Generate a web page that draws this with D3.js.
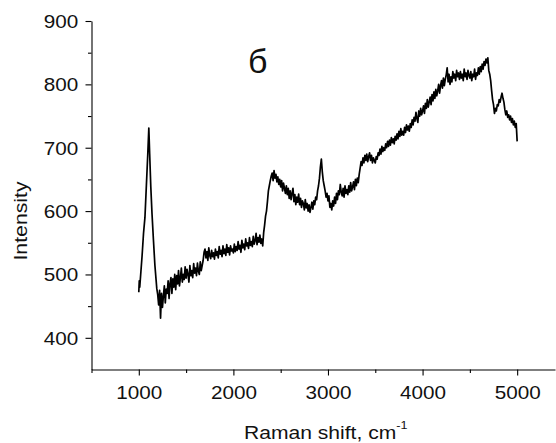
<!DOCTYPE html>
<html><head><meta charset="utf-8">
<script src="https://cdn.jsdelivr.net/npm/d3@7"></script>
<style>body{margin:0;background:#fff}svg{display:block}</style>
</head><body>
<svg id="chart" width="556" height="443"></svg>
<script>
// ---- data ----
const ramanShift = [1000,1005,1010,1020,1035,1050,1065,1080,1095,1106,1115,1127,1140,1155,1170,1183,1190,
1200,1210,1220,1230,1240,1250,1260,1270,1280,1290,
1300,1310,1320,1330,1340,1350,1360,1370,1380,1390,
1400,1410,1420,1430,1440,1450,1460,1470,1480,1490,
1500,1510,1520,1530,1540,1550,1560,1570,1580,1590,
1600,1610,1620,1630,1640,1650,1660,1670,1680,1690,
1700,1710,1720,1730,1740,1750,1760,1770,1780,1790,
1800,1810,1820,1830,1840,1850,1860,1870,1880,1890,
1900,1910,1920,1930,1940,1950,1960,1970,1980,1990,
2000,2010,2020,2030,2040,2050,2060,2070,2080,2090,
2100,2110,2120,2130,2140,2150,2160,2170,2180,2190,
2200,2210,2220,2230,2240,2250,2260,2270,2280,2290,
2300,2310,2320,2330,2340,2350,2360,2370,2380,2390,
2400,2410,2420,2430,2440,2450,2460,2470,2480,2490,
2500,2510,2520,2530,2540,2550,2560,2570,2580,2590,
2600,2610,2620,2630,2640,2650,2660,2670,2680,2690,
2700,2710,2720,2730,2740,2750,2760,2770,2780,2790,
2800,2810,2820,2830,2840,2850,2860,2870,2880,2890,
2900,2910,2920,2930,2940,2950,2960,2970,2980,2990,
3000,3010,3020,3030,3040,3050,3060,3070,3080,3090,
3100,3110,3120,3130,3140,3150,3160,3170,3180,3190,
3200,3210,3220,3230,3240,3250,3260,3270,3280,3290,
3300,3310,3320,3330,3340,3350,3360,3370,3380,3390,
3400,3410,3420,3430,3440,3450,3460,3470,3480,3490,
3500,3510,3520,3530,3540,3550,3560,3570,3580,3590,
3600,3610,3620,3630,3640,3650,3660,3670,3680,3690,
3700,3710,3720,3730,3740,3750,3760,3770,3780,3790,
3800,3810,3820,3830,3840,3850,3860,3870,3880,3890,
3900,3910,3920,3930,3940,3950,3960,3970,3980,3990,
4000,4010,4020,4030,4040,4050,4060,4070,4080,4090,
4100,4110,4120,4130,4140,4150,4160,4170,4180,4190,
4200,4210,4220,4230,4240,4250,4260,4270,4280,4290,
4300,4310,4320,4330,4340,4350,4360,4370,4380,4390,
4400,4410,4420,4430,4440,4450,4460,4470,4480,4490,
4500,4510,4520,4530,4540,4550,4560,4570,4580,4590,
4600,4610,4620,4630,4640,4650,4660,4670,4680,4690,
4700,4710,4720,4730,4740,4750,4760,4770,4780,4790,
4800,4810,4820,4830,4840,4850,4860,4870,4880,4890,
4900,4910,4920,4930,4940,4950,4960,4970,4980,4990,
5000];
const intensity = [472,490,480,500,530,565,590,640,690,731,690,638,595,554,515,491,478,
468,452,475,431,470,448,466,482,455,477,
470,490,462,486,495,470,493,480,500,476,
498,485,506,482,495,510,488,500,492,512,
494,508,500,488,514,498,506,495,517,502,
510,498,518,505,500,520,506,514,522,535,
540,526,536,522,542,530,525,538,528,534,
524,540,530,536,526,544,532,538,528,545,
533,540,530,547,535,542,531,545,537,540,
534,548,536,544,538,552,540,546,535,554,
542,548,539,556,545,550,541,558,546,552,
544,560,548,553,565,547,558,551,562,549,
556,545,566,578,592,600,615,632,640,648,
655,660,648,664,652,658,646,654,642,650,
638,648,632,644,636,628,640,626,636,620,
632,618,628,636,615,626,610,622,614,627,
610,620,606,616,612,602,618,605,612,600,
610,598,606,614,603,616,610,622,618,632,
640,652,670,682,662,648,640,632,622,628,
616,624,606,612,602,616,608,622,612,628,
618,632,626,642,630,624,636,622,640,628,
634,626,640,630,645,632,638,646,634,650,
640,652,645,658,668,678,672,684,676,688,
680,690,678,686,692,680,688,676,684,680,
676,686,682,692,688,698,690,702,694,700,
696,706,700,710,702,712,704,716,708,714,
706,718,712,722,714,726,718,730,720,726,
720,732,724,736,728,734,726,738,732,744,
736,748,742,756,746,740,758,750,762,752,
758,766,754,770,762,776,764,772,780,768,
784,774,788,778,792,782,790,800,786,798,
806,794,810,798,808,815,826,804,816,800,
812,804,820,810,816,806,822,812,818,808,
820,810,816,806,824,812,818,808,822,814,
810,820,806,816,812,824,808,818,814,826,
816,828,820,832,824,836,830,840,834,842,
822,816,806,790,776,768,754,762,758,768,
766,776,772,780,786,778,772,760,752,758,
748,752,744,750,740,746,736,742,732,738,
710];
const xMajorTicks = [1000, 2000, 3000, 4000, 5000];
const xMinorTicks = [500, 1500, 2500, 3500, 4500];
const yMajorTicks = [400, 500, 600, 700, 800, 900];
const yMinorTicks = [450, 550, 650, 750, 850];
const xTitle = "Raman shift, cm";
const xTitleSup = "-1";
const yTitle = "Intensity";
const panelLabel = "б";

// ---- drawing ----
const svg = d3.select("#chart");
const FONT = "'Liberation Sans', Arial, sans-serif";
const x = d3.scaleLinear().domain([500, 5400]).range([91.5, 555]);
const y = d3.scaleLinear().domain([350, 900]).range([369.5, 21]);
const stretch = 1.15;

// minor ticks
svg.append("g").attr("transform", `translate(0,${y(350)})`)
  .call(d3.axisBottom(x).tickValues(xMinorTicks).tickSize(3.5).tickSizeOuter(0).tickFormat(""))
  .call(g => g.select(".domain").remove());
svg.append("g").attr("transform", `translate(${x(500)},0)`)
  .call(d3.axisLeft(y).tickValues(yMinorTicks).tickSize(3.5).tickSizeOuter(0).tickFormat(""))
  .call(g => g.select(".domain").remove());

// major axes
const gx = svg.append("g").attr("transform", `translate(0,${y(350)})`)
  .call(d3.axisBottom(x).tickValues(xMajorTicks).tickSize(6).tickSizeOuter(0).tickFormat(d3.format("d")));
gx.selectAll("text").attr("font-family", FONT).attr("font-size", 18).attr("fill", "#111")
  .attr("y", 0).attr("dy", 0)
  .attr("transform", `translate(0,29.8) scale(${stretch},1)`);

const gy = svg.append("g").attr("transform", `translate(${x(500)},0)`)
  .call(d3.axisLeft(y).tickValues(yMajorTicks).tickSize(6).tickSizeOuter(0).tickFormat(d3.format("d")));
gy.selectAll("text").attr("font-family", FONT).attr("font-size", 18).attr("fill", "#111")
  .attr("x", 0).attr("dy", 0)
  .attr("transform", `translate(-13.2,6.5) scale(${stretch},1)`);

svg.selectAll(".domain, .tick line").attr("stroke", "#000").attr("stroke-width", 1.1);

// spectrum line
const pts = ramanShift.map((d, i) => [d, intensity[i]]);
svg.append("path").datum(pts)
  .attr("fill", "none").attr("stroke", "#000").attr("stroke-width", 1.7).attr("stroke-linejoin", "round")
  .attr("d", d3.line().x(d => x(d[0])).y(d => y(d[1])));

// axis titles
const xt = svg.append("text").attr("font-family", FONT).attr("font-size", 18.5).attr("fill", "#111")
  .attr("text-anchor", "start")
  .attr("transform", `translate(244,438.5) scale(1.14,1)`);
xt.append("tspan").text(xTitle);
xt.append("tspan").attr("font-size", 11).attr("dy", -10).text(xTitleSup);

svg.append("text").attr("font-family", FONT).attr("font-size", 18.5).attr("fill", "#111")
  .attr("text-anchor", "middle")
  .attr("transform", `translate(27,221) rotate(-90) scale(1.15,1)`)
  .text(yTitle);

svg.append("text").attr("font-family", FONT).attr("font-size", 34).attr("fill", "#111")
  .attr("x", 248).attr("y", 72.5).text(panelLabel);
</script>
</body></html>
